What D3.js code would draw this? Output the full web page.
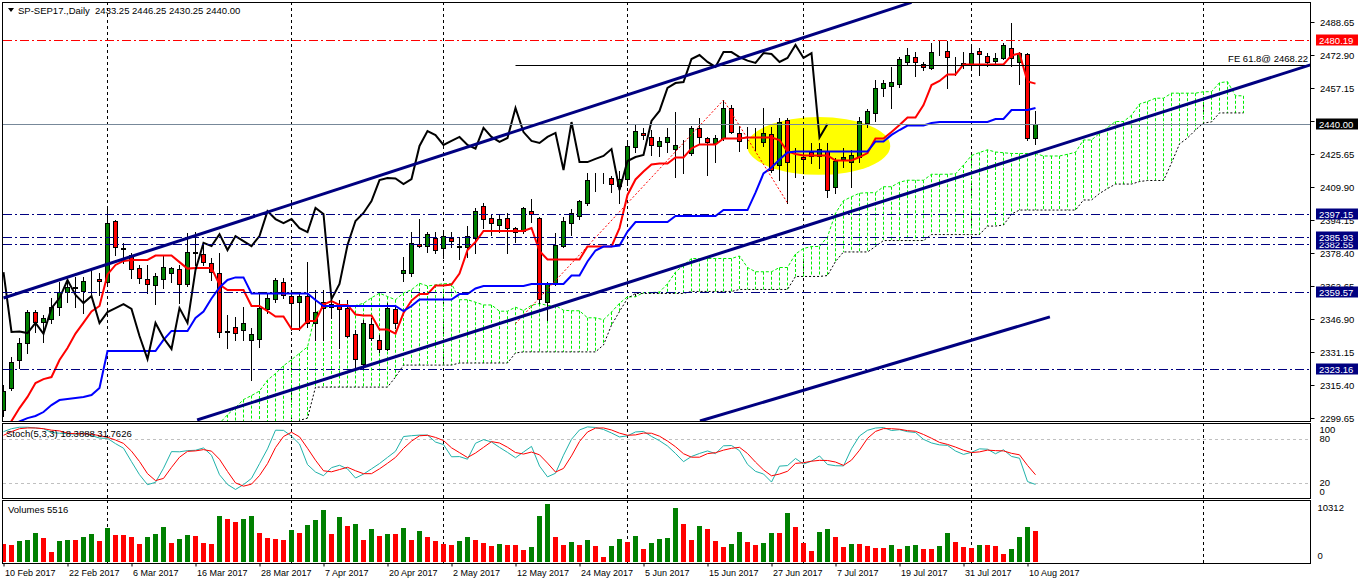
<!DOCTYPE html>
<html lang="en">
<head>
<meta charset="UTF-8">
<title>SP-SEP17 Daily</title>
<script src="https://d3js.org/d3.v7.min.js"></script>
<style>
  body { margin: 0; background: #fff; }
  svg { display: block; font-family: "Liberation Sans", Arial, sans-serif; font-size: 9.5px; }
</style>
</head>
<body>
<svg id="chart" width="1358" height="584"></svg>
<script>
// ---- data (daily bars, 10 Feb 2017 .. 11 Aug 2017) ----
const tickIdx = [0, 8, 16, 24, 32, 40, 48, 56, 64, 72, 80, 88, 96, 104, 112, 120, 128];
const dates = ["10 Feb 2017", "22 Feb 2017", "6 Mar 2017", "16 Mar 2017", "28 Mar 2017", "7 Apr 2017",
  "20 Apr 2017", "2 May 2017", "12 May 2017", "24 May 2017", "5 Jun 2017", "15 Jun 2017",
  "27 Jun 2017", "7 Jul 2017", "19 Jul 2017", "31 Jul 2017", "10 Aug 2017"];
// first trading day of each month (dotted grid)
const gridIdx = [13, 36, 55, 78, 100, 121, 150];

const open = [2303.4,2314.0,2327.3,2335.4,2350.2,2345.5,2346.9,2352.6,2359.8,2361.7,
  2360.3,2365.3,2366.0,2364.6,2393.7,2380.8,2377.4,2371.2,2366.0,2363.1,
  2366.0,2368.9,2370.8,2363.6,2378.6,2377.9,2373.6,2368.9,2341.2,2343.1,
  2341.6,2336.9,2337.3,2351.7,2356.4,2364.6,2357.9,2355.0,2357.9,2345.0,
  2355.0,2352.6,2353.6,2352.1,2339.8,2325.4,2344.5,2336.9,2332.6,2351.7,
  2368.9,2368.9,2382.7,2381.7,2385.6,2380.8,2385.6,2381.5,2381.3,2385.6,
  2400.8,2395.1,2391.8,2395.1,2390.3,2388.9,2398.4,2395.1,2355.0,2363.6,
  2381.7,2392.7,2396.0,2402.3,2414.0,2414.2,2414.2,2410.4,2413.7,2429.0,
  2435.7,2433.8,2429.5,2431.4,2428.0,2428.0,2426.1,2438.1,2433.3,2430.9,
  2433.3,2447.6,2435.7,2431.1,2433.6,2431.4,2435.2,2420.4,2441.9,2422.0,
  2424.2,2426.6,2424.7,2427.1,2409.9,2423.3,2421.8,2424.2,2440.5,2445.2,
  2457.2,2458.1,2459.1,2469.6,2471.9,2468.6,2466.7,2474.1,2474.8,2470.0,
  2468.1,2468.1,2474.8,2472.4,2470.0,2471.5,2476.2,2469.6,2473.4,2433.25];
const high = [2315.4,2328.7,2337.8,2351.2,2351.2,2348.8,2356.9,2364.6,2365.5,2366.9,
  2366.9,2370.3,2368.9,2400.4,2394.1,2383.2,2378.4,2372.6,2372.6,2368.9,
  2377.4,2371.7,2372.6,2387.9,2388.4,2383.6,2376.0,2378.4,2348.8,2347.9,
  2352.6,2342.6,2359.3,2359.3,2366.5,2366.5,2359.3,2359.3,2374.1,2360.7,
  2360.7,2356.9,2356.0,2356.0,2341.6,2346.4,2347.4,2339.3,2354.5,2353.6,
  2376.5,2388.4,2394.6,2388.4,2388.4,2389.4,2388.4,2386.0,2391.3,2399.9,
  2402.3,2397.0,2396.5,2397.5,2390.8,2400.4,2404.2,2395.6,2364.6,2387.9,
  2395.6,2399.4,2403.7,2416.6,2416.6,2416.6,2415.2,2417.5,2430.9,2440.0,
  2438.1,2437.1,2433.8,2438.1,2445.7,2432.3,2439.0,2442.8,2433.8,2434.7,
  2451.4,2449.0,2439.0,2438.5,2438.1,2447.6,2438.5,2442.8,2442.8,2428.5,
  2438.1,2430.9,2430.9,2430.9,2423.7,2428.5,2427.5,2443.3,2447.1,2461.0,
  2461.0,2467.2,2471.9,2476.2,2474.3,2469.6,2478.6,2479.6,2479.6,2471.9,
  2474.3,2477.7,2476.2,2473.8,2473.8,2478.6,2488.2,2474.3,2473.8,2446.25];
const low = [2300.6,2313.0,2323.5,2330.7,2340.7,2335.9,2345.0,2348.8,2355.0,2352.6,
  2349.8,2358.4,2358.4,2363.1,2377.4,2373.6,2366.5,2364.1,2359.3,2354.0,
  2361.7,2364.6,2354.5,2362.6,2372.6,2372.6,2365.5,2338.3,2333.1,2336.9,
  2336.9,2317.8,2333.5,2349.8,2355.0,2356.9,2341.6,2341.6,2343.1,2336.9,
  2336.9,2347.4,2333.1,2338.3,2324.0,2323.0,2336.9,2331.1,2332.1,2342.6,
  2365.0,2367.4,2381.3,2378.9,2378.4,2376.0,2381.3,2375.5,2376.5,2378.4,
  2390.3,2387.0,2388.4,2378.4,2383.6,2387.9,2393.2,2354.5,2346.4,2363.1,
  2381.3,2387.0,2394.6,2401.3,2408.0,2411.8,2407.5,2402.3,2410.9,2426.6,
  2432.8,2425.2,2424.7,2426.6,2414.7,2416.6,2425.2,2430.9,2415.6,2421.8,
  2432.3,2435.7,2427.1,2428.5,2427.5,2429.5,2417.0,2413.2,2402.3,2414.7,
  2416.6,2421.3,2419.0,2405.1,2407.0,2419.4,2409.9,2421.8,2438.5,2441.4,
  2453.3,2447.6,2457.6,2468.1,2462.9,2465.7,2466.2,2472.9,2457.2,2463.4,
  2466.7,2467.2,2463.4,2467.6,2468.1,2471.0,2467.6,2459.1,2432.3,2430.25];
const close = [2312.5,2326.4,2335.4,2350.2,2345.5,2347.4,2352.6,2359.8,2362.2,2362.2,
  2365.0,2365.5,2365.0,2392.7,2381.3,2380.5,2370.8,2366.5,2363.6,2367.4,
  2371.7,2371.2,2363.6,2378.9,2378.9,2374.1,2369.3,2340.7,2340.9,2340.2,
  2345.0,2339.8,2352.1,2356.9,2365.5,2358.4,2354.5,2357.9,2345.0,2350.2,
  2352.1,2354.0,2351.7,2338.8,2327.8,2345.0,2337.8,2332.6,2352.1,2345.0,
  2370.3,2383.2,2381.7,2387.4,2379.8,2386.5,2384.1,2381.7,2386.5,2398.4,
  2394.6,2392.7,2394.6,2390.3,2388.4,2399.9,2397.0,2356.4,2363.6,2382.2,
  2393.7,2397.5,2403.2,2413.2,2414.2,2414.0,2411.3,2413.7,2429.5,2436.6,
  2434.7,2430.0,2431.9,2433.8,2430.0,2428.2,2438.1,2433.8,2431.4,2433.3,
  2447.6,2436.1,2431.9,2430.9,2433.8,2435.7,2418.0,2440.9,2421.8,2421.8,
  2423.3,2424.7,2428.0,2408.5,2422.3,2424.2,2425.2,2441.4,2446.2,2457.2,
  2459.5,2460.0,2471.0,2472.9,2469.6,2467.2,2474.3,2474.3,2471.9,2470.2,
  2469.1,2473.8,2473.4,2469.6,2471.5,2477.7,2471.5,2473.8,2433.5,2440.00];
const volume = [3260,3023,3793,3830,5216,4267,1837,3793,3912,3853,
  4445,5038,3793,6046,4801,4742,4445,3260,4445,5038,
  6223,3438,4149,4860,4623,3438,3200,8179,7705,7172,
  7646,8180,5216,4267,4090,3912,5690,5216,6579,7468,
  9246,5038,8001,6401,6816,3912,5868,4623,5038,4979,
  6046,3912,5512,4445,3734,3200,3023,3734,4445,3912,
  3378,2845,3200,3023,2964,2134,2667,8179,10312,4445,
  3023,3556,3023,3912,2845,889,2845,4090,3556,4623,
  2312,3378,4090,4267,9602,6757,3912,6401,5868,3734,
  2667,3200,5334,3556,3023,3378,5157,5097,8713,6223,
  3378,1956,5334,5868,4445,2667,3200,3141,2845,2489,
  2430,3023,2312,2845,3023,2312,2252,2845,5157,3556,
  2667,2489,3023,2964,2845,1422,2312,4445,6223,5516];

// indicator values before enough bars exist
const tenkanHead = [2292, 2298.2, 2304.4, 2309.7, 2316.3, 2318.2, 2319.2, 2327.3];
const kijunHead = [2294, 2296, 2298, 2299.6, 2300.6, 2302.5, 2305.8, 2308.2, 2308.7, 2309.2,
  2309.7, 2310.6, 2314.0, 2331.6, 2331.6, 2331.6, 2331.6, 2331.6, 2331.6, 2331.6,
  2336.9, 2341.2, 2341.2, 2341.2, 2347.4];
const spanBHead = [2285, 2285, 2285, 2285, 2285, 2285, 2285, 2285, 2285, 2285, 2285,
  2298.5, 2299.6,
  2314.4, 2314.4, 2314.4, 2314.4, 2314.4, 2314.4, 2314.4, 2314.4, 2314.4, 2314.4,
  2319.2,
  2324.9, 2324.9, 2324.9, 2324.9, 2324.9, 2324.9, 2324.9,
  2325.9, 2325.9, 2325.9, 2325.9, 2325.9, 2325.9, 2325.9,
  2330.7,
  2331.2, 2331.2, 2331.2, 2331.2, 2331.2, 2331.2, 2331.2, 2331.2, 2331.2, 2331.2,
  2334.5, 2344.0];
const stochKHead = [90, 94, 96, 96, 95, 94];
const stochDHead = [85, 90, 94, 95, 95, 94, 92, 91];
const stochLabel = "Stoch(5,3,3) 18.3888 31.7626";

// chart objects
const navyLevels = [2323.16, 2359.57, 2382.55, 2385.93, 2397.15];
const redLevel = 2480.19;
const lastPrice = 2440.00;
const priceTicks = [2299.65, 2315.40, 2331.15, 2346.90, 2362.65, 2378.40, 2394.15, 2409.90,
  2425.65, 2441.40, 2457.15, 2472.90, 2488.65];
const channels = [
  { from: [0, 2356.9], to: [113.5, 2498.0], ray: false },
  { from: [24.2, 2298.7], to: [163.3, 2468.1], ray: true },
  { from: [87.06, 2298.2], to: [130.8, 2347.9], ray: false }
];
const fePoints = [[64, 2344.7], [90, 2451.4], [98, 2402.3]];
const feLevel = 2468.22;
const ellipse = { i: 101.9, p: 2429.5, di: 8.94, dp: 13.8 };

// ---- layout ----
const PR = 1310;
const panels = { main: [2, 421], stoch: [423, 498], vol: [500, 563] };
const x = d3.scaleLinear().domain([0, 163]).range([3.5, 1307.5]);
const y = d3.scaleLinear().domain([2299.65, 2488.65]).range([418, 22]);
const yS = d3.scaleLinear().domain([0, 100]).range([497.6, 424.3]);
const yV = d3.scaleLinear().domain([0, 10312]).range([562, 504]);
const FONT = '"Liberation Sans", Arial, sans-serif';
const fmt = d3.format(".2f");
const GREEN = "#008000", RED = "#ff0000", NAVY = "#000080";
const n = close.length;

// ---- indicators ----
function mid(i, len) {
  let hh = -Infinity, ll = Infinity;
  for (let k = i - len + 1; k <= i; k++) { hh = Math.max(hh, high[k]); ll = Math.min(ll, low[k]); }
  return (hh + ll) / 2;
}
const tenkan = close.map((_, i) => i < 8 ? tenkanHead[i] : mid(i, 9));
const kijun = close.map((_, i) => i < 25 ? kijunHead[i] : mid(i, 26));
const spanB = close.map((_, i) => i < 51 ? spanBHead[i] : mid(i, 52));
const spanA = tenkan.map((t, i) => (t + kijun[i]) / 2);

const stochK = close.map((c, i) => {
  if (i < 6) return stochKHead[i];
  let num = 0, den = 0;
  for (let k = i - 2; k <= i; k++) {
    let hh = -Infinity, ll = Infinity;
    for (let m = k - 4; m <= k; m++) { hh = Math.max(hh, high[m]); ll = Math.min(ll, low[m]); }
    num += close[k] - ll; den += hh - ll;
  }
  return 100 * num / den;
});
const stochD = stochK.map((_, i) => i < 8 ? stochDHead[i] : (stochK[i] + stochK[i - 1] + stochK[i - 2]) / 3);

// ---- drawing ----
const svg = d3.select("#chart");
const defs = svg.append("defs");
function addClip(id, y0, y1) {
  defs.append("clipPath").attr("id", id).append("rect")
    .attr("x", 3).attr("y", y0 + 1).attr("width", PR - 3).attr("height", y1 - y0 - 1);
}
addClip("cMain", ...panels.main);
addClip("cStoch", ...panels.stoch);
addClip("cVol", ...panels.vol);

const gMain = svg.append("g").attr("clip-path", "url(#cMain)");
const gStoch = svg.append("g").attr("clip-path", "url(#cStoch)");
const gVol = svg.append("g").attr("clip-path", "url(#cVol)");

const px = v => Math.round(v) + 0.5;

// yellow ellipse (background object)
gMain.append("ellipse")
  .attr("cx", x(ellipse.i)).attr("cy", y(ellipse.p))
  .attr("rx", x(ellipse.i + ellipse.di) - x(ellipse.i))
  .attr("ry", y(ellipse.p - ellipse.dp) - y(ellipse.p))
  .attr("fill", "#ffff00");

// month grid in every panel
[[gMain, panels.main], [gStoch, panels.stoch], [gVol, panels.vol]].forEach(([g, [t, b]]) => {
  g.selectAll(".grid").data(gridIdx).join("line")
    .attr("x1", d => x(d)).attr("x2", d => x(d)).attr("y1", t).attr("y2", b)
    .attr("stroke", "#000").attr("stroke-dasharray", "3,3");
});

// ichimoku cloud hatch
const cloud = spanA.map((a, i) => ({ j: i + 26, a, b: spanB[i] }));
gMain.selectAll(".hatch").data(cloud).join("line")
  .attr("x1", d => x(d.j)).attr("x2", d => x(d.j))
  .attr("y1", d => y(d.a)).attr("y2", d => y(d.b))
  .attr("stroke", d => d.a >= d.b ? "#00ee00" : "#000")
  .attr("stroke-dasharray", "3,2");

const line = d3.line().x(d => x(d[0])).y(d => y(d[1]));
gMain.append("path").datum(cloud.map(d => [d.j, d.a])).attr("d", line)
  .attr("fill", "none").attr("stroke", "#00ee00").attr("stroke-dasharray", "3,2");
gMain.append("path").datum(cloud.map(d => [d.j, d.b])).attr("d", line)
  .attr("fill", "none").attr("stroke", "#000").attr("stroke-dasharray", "2,2");

// candles
const bars = close.map((c, i) => ({ i, o: open[i], h: high[i], l: low[i], c }));
const cg = gMain.selectAll(".candle").data(bars).join("g");
cg.append("line")
  .attr("x1", d => x(d.i)).attr("x2", d => x(d.i))
  .attr("y1", d => Math.round(y(d.h))).attr("y2", d => Math.round(y(d.l)) + 1)
  .attr("stroke", "#000");
cg.append("rect")
  .attr("x", d => x(d.i) - 2)
  .attr("width", 4)
  .attr("y", d => px(y(Math.max(d.o, d.c))))
  .attr("height", d => Math.max(0, Math.round(y(Math.min(d.o, d.c))) - Math.round(y(Math.max(d.o, d.c)))))
  .attr("fill", d => d.c >= d.o ? GREEN : RED)
  .attr("stroke", "#000");

// tenkan, kijun, chikou
gMain.append("path").datum(tenkan.map((v, i) => [i, v])).attr("d", line)
  .attr("fill", "none").attr("stroke", RED).attr("stroke-width", 2);
gMain.append("path").datum(kijun.map((v, i) => [i, v])).attr("d", line)
  .attr("fill", "none").attr("stroke", "#0000ff").attr("stroke-width", 2);
gMain.append("path").datum(close.slice(26).map((v, i) => [i, v])).attr("d", line)
  .attr("fill", "none").attr("stroke", "#000").attr("stroke-width", 2);

// fibonacci expansion
gMain.append("path").datum(fePoints).attr("d", line)
  .attr("fill", "none").attr("stroke", RED).attr("stroke-dasharray", "2,2");
gMain.append("line")
  .attr("x1", x(fePoints[0][0])).attr("x2", PR)
  .attr("y1", px(y(feLevel))).attr("y2", px(y(feLevel)))
  .attr("stroke", "#000");
svg.append("text").attr("x", 1308).attr("y", y(feLevel) - 3)
  .attr("text-anchor", "end").text("FE 61.8@ " + fmt(feLevel));

// horizontal levels
gMain.append("line").attr("x1", 3).attr("x2", PR)
  .attr("y1", px(y(lastPrice))).attr("y2", px(y(lastPrice))).attr("stroke", "#778899");
gMain.append("line").attr("x1", 3).attr("x2", PR)
  .attr("y1", px(y(redLevel))).attr("y2", px(y(redLevel)))
  .attr("stroke", RED).attr("stroke-dasharray", "9,3,2,3");
gMain.selectAll(".lvl").data(navyLevels).join("line")
  .attr("x1", 3).attr("x2", PR)
  .attr("y1", d => px(y(d))).attr("y2", d => px(y(d)))
  .attr("stroke", NAVY).attr("stroke-dasharray", "9,3,2,3");

// trend channel
channels.forEach(ch => {
  let [i0, p0] = ch.from, [i1, p1] = ch.to;
  if (ch.ray) { const s = (p1 - p0) / (i1 - i0); i1 = 170; p1 = p0 + s * (i1 - i0); }
  gMain.append("line")
    .attr("x1", x(i0)).attr("y1", y(p0)).attr("x2", x(i1)).attr("y2", y(p1))
    .attr("stroke", NAVY).attr("stroke-width", 3);
});

// stochastic
gStoch.selectAll(".slvl").data([80, 20]).join("line")
  .attr("x1", 3).attr("x2", PR).attr("y1", d => px(yS(d))).attr("y2", d => px(yS(d)))
  .attr("stroke", "#c0c0c0").attr("stroke-dasharray", "3,3");
const sLine = d3.line().x((d, i) => x(i)).y(d => yS(d));
gStoch.append("path").datum(stochK).attr("d", sLine)
  .attr("fill", "none").attr("stroke", "#20b2aa");
gStoch.append("path").datum(stochD).attr("d", sLine)
  .attr("fill", "none").attr("stroke", RED);

// volumes
gVol.selectAll(".vbar").data(volume).join("rect")
  .attr("x", (d, i) => x(i) - 2.5).attr("width", 5)
  .attr("y", d => Math.round(yV(d))).attr("height", d => yV(0) - Math.round(yV(d)))
  .attr("fill", (d, i) => i > 0 && d > volume[i - 1] ? GREEN : RED);

// panel frames
Object.values(panels).forEach(([t, b]) => {
  svg.append("rect").attr("x", 2.5).attr("y", t + 0.5).attr("width", PR - 2)
    .attr("height", b - t).attr("fill", "none").attr("stroke", "#000");
});

// price axis
const yAxis = d3.axisRight(y).tickValues(priceTicks).tickFormat(fmt).tickSize(4).tickSizeOuter(0);
svg.append("g").attr("transform", `translate(${PR + 0.5},0)`)
  .call(yAxis)
  .attr("font-family", FONT).attr("font-size", 9.5)
  .call(g => g.select(".domain").remove())
  .call(g => g.selectAll("text").attr("x", 9.5));

// price tags on the axis
const tags = [
  ...navyLevels.map(v => ({ v, bg: NAVY })),
  { v: redLevel, bg: RED },
  { v: lastPrice, bg: "#000" }
];
const tg = svg.selectAll(".tag").data(tags).join("g")
  .attr("transform", d => `translate(1316,${Math.round(y(d.v))})`);
tg.append("rect").attr("x", 0).attr("y", -5.5).attr("width", 42).attr("height", 11).attr("fill", d => d.bg);
tg.append("text").attr("x", 3).attr("y", 3.5).attr("fill", "#fff").text(d => fmt(d.v));

// stochastic / volume scales
const sAxis = d3.axisRight(yS).tickValues([100, 80, 20, 0]).tickSize(0).tickFormat(d3.format("d"));
svg.append("g").attr("transform", `translate(${PR + 0.5},0)`).call(sAxis)
  .attr("font-family", FONT).attr("font-size", 9.5)
  .call(g => g.select(".domain").remove())
  .call(g => g.selectAll(".tick").attr("transform", d => `translate(0,${Math.min(Math.max(yS(d), 430), 492)})`))
  .call(g => g.selectAll("text").attr("x", 9));
const vAxis = d3.axisRight(yV).tickValues([10312, 0]).tickSize(0).tickFormat(d3.format("d"));
svg.append("g").attr("transform", `translate(${PR + 0.5},0)`).call(vAxis)
  .attr("font-family", FONT).attr("font-size", 9.5)
  .call(g => g.select(".domain").remove())
  .call(g => g.selectAll(".tick").attr("transform", d => `translate(0,${Math.min(Math.max(yV(d), 508), 556)})`))
  .call(g => g.selectAll("text").attr("x", 7));

// time axis
const xAxis = d3.axisBottom(x).tickValues(tickIdx).tickFormat((d, i) => dates[i]).tickSize(3).tickSizeOuter(0);
svg.append("g").attr("transform", `translate(0,${panels.vol[1] + 0.5})`).call(xAxis)
  .attr("font-family", FONT).attr("font-size", 9)
  .call(g => g.select(".domain").remove())
  .call(g => g.selectAll("text").attr("text-anchor", "start").attr("x", 1).attr("y", 6));

// titles
svg.append("path").attr("d", "M8,8 L14,8 L11,12 Z").attr("fill", "#000");
svg.append("text").attr("x", 18).attr("y", 14).style("white-space", "pre")
  .text(`SP-SEP17.,Daily  ${fmt(open[n - 1])} ${fmt(high[n - 1])} ${fmt(low[n - 1])} ${fmt(close[n - 1])}`);
svg.append("text").attr("x", 6).attr("y", 437).text(stochLabel);
svg.append("text").attr("x", 8).attr("y", 513).text("Volumes " + volume[n - 1]);
</script>
</body>
</html>
